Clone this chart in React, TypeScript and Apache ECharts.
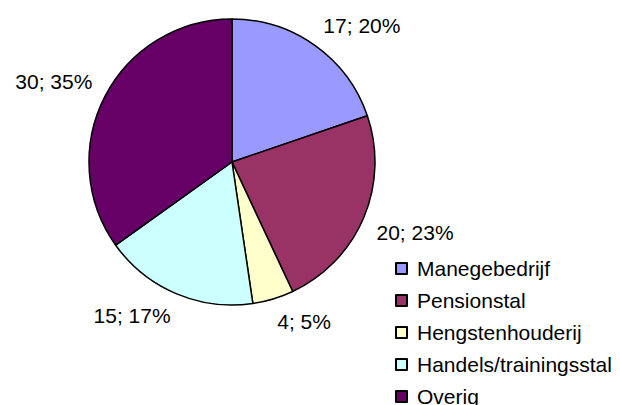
import React, { useEffect, useRef } from "react";
import * as echarts from "echarts";

const categories = ["Manegebedrijf", "Pensionstal", "Hengstenhouderij", "Handels/trainingsstal", "Overig"];
const values = [17, 20, 4, 15, 30];
const colors = ["#9999FF", "#993366", "#FFFFCC", "#CCFFFF", "#660066"];

const CX = 232;
const CY = 162;
const RADIUS = 143;
const LABEL_DIST = 157;
const FONT_SIZE = 21;
const FONT = "'Liberation Sans', Arial, sans-serif";

export default function App() {
  const ref = useRef<HTMLDivElement>(null);
  useEffect(() => {
    document.body.style.margin = "0";
    const chart = echarts.init(ref.current!, null, { renderer: "svg" });
    const total = values.reduce((a, b) => a + b, 0);
    chart.setOption({
      animation: false,
      backgroundColor: "#ffffff",
      textStyle: { fontFamily: FONT },
      legend: {
        orient: "vertical",
        left: 395,
        top: 258,
        height: 200,
        padding: 0,
        itemWidth: 11,
        itemHeight: 11,
        itemGap: 11,
        icon: "rect",
        textStyle: { fontFamily: FONT, fontSize: FONT_SIZE, lineHeight: 21, color: "#000", padding: [0, 0, 0, 5] },
        data: categories,
      },
      series: [
        {
          type: "pie",
          center: [CX, CY],
          radius: RADIUS,
          startAngle: 90,
          clockwise: true,
          percentPrecision: 0,
          avoidLabelOverlap: false,
          itemStyle: { borderColor: "#000", borderWidth: 1.5 },
          emphasis: { disabled: true },
          label: {
            show: true,
            position: "outside",
            formatter: "{c}; {d}%",
            fontFamily: FONT,
            fontSize: FONT_SIZE,
            color: "#000",
          },
          labelLine: { show: false },
          labelLayout: (params: any) => {
            const i = params.dataIndex;
            let before = 0;
            for (let j = 0; j < i; j++) before += values[j];
            const ang = ((before + values[i] / 2) / total) * 2 * Math.PI;
            const dx = Math.sin(ang);
            const dy = -Math.cos(ang);
            const hw = params.labelRect.width / 2;
            const hh = FONT_SIZE * 0.42;
            return {
              x: CX + dx * LABEL_DIST + Math.sign(dx) * hw,
              y: CY + dy * LABEL_DIST + Math.sign(dy) * hh,
              align: "center",
              verticalAlign: "middle",
            };
          },
          data: categories.map((name, i) => ({
            name,
            value: values[i],
            itemStyle: { color: colors[i] },
          })),
        },
      ],
    });
    return () => chart.dispose();
  }, []);
  return <div ref={ref} style={{ width: 620, height: 405 }} />;
}
